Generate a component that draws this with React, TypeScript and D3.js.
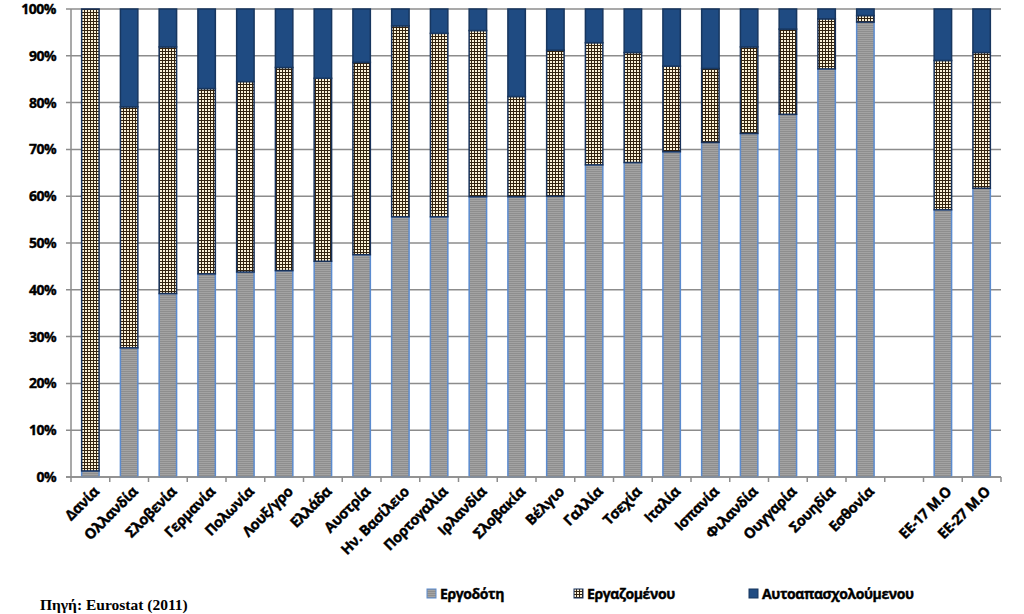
/*eslint-disable*/
import React, { useEffect, useRef } from 'react';
import * as d3 from 'd3';

// "" is the empty slot between Εσθονία and the EU averages
const categories = [
  'Δανία', 'Ολλανδία', 'Σλοβενία', 'Γερμανία', 'Πολωνία', 'Λουξ/γρο', 'Ελλάδα', 'Αυστρία',
  'Ην. Βασίλειο', 'Πορτογαλία', 'Ιρλανδία', 'Σλοβακία', 'Βέλγιο', 'Γαλλία', 'Τσεχία', 'Ιταλία',
  'Ισπανία', 'Φιλανδία', 'Ουγγαρία', 'Σουηδία', 'Εσθονία', '', 'ΕΕ-17 Μ.Ο', 'ΕΕ-27 Μ.Ο'
];

const ergodoti = [1.3, 27.6, 39.2, 43.4, 43.8, 44.1, 46.1, 47.5, 55.6, 55.6, 59.9, 59.9, 60.0, 66.7, 67.2, 69.5, 71.5, 73.4, 77.5, 87.2, 97.2, 0, 57.1, 61.7];
const ergazomenou = [98.7, 51.5, 52.7, 39.6, 40.7, 43.4, 39.1, 41.1, 40.8, 39.2, 35.5, 21.4, 31.2, 26.1, 23.5, 18.3, 15.8, 18.5, 18.2, 10.7, 1.4, 0, 31.9, 29.0];
const aftoapasx = [0, 20.9, 8.1, 17.0, 15.5, 12.5, 14.8, 11.4, 3.6, 5.2, 4.6, 18.7, 8.8, 7.2, 9.3, 12.2, 12.7, 8.1, 4.3, 2.1, 1.4, 0, 11.0, 9.3];

const seriesNames = ['Εργοδότη', 'Εργαζομένου', 'Αυτοαπασχολούμενου'];
const yTicks = [0, 10, 20, 30, 40, 50, 60, 70, 80, 90, 100];

const App: React.FC = () => {
  const svgRef = useRef<SVGSVGElement>(null);
  useEffect(() => {
    const W = 1024, H = 614;
    const left = 71, right = 1001, top = 9, bottom = 477;
    const font = '"Open Sans", "DejaVu Sans", sans-serif';

    const svg = d3.select(svgRef.current).attr('width', W).attr('height', H);
    svg.selectAll('*').remove();

    const defs = svg.append('defs');
    const p1 = defs.append('pattern').attr('id', 'pGray').attr('patternUnits', 'userSpaceOnUse')
      .attr('width', 4).attr('height', 2);
    p1.append('rect').attr('width', 4).attr('height', 2).attr('fill', '#a3a3a3');
    p1.append('rect').attr('y', 1).attr('width', 4).attr('height', 1).attr('fill', '#8e8e8e');

    const p2 = defs.append('pattern').attr('id', 'pGrid').attr('patternUnits', 'userSpaceOnUse')
      .attr('width', 3).attr('height', 3);
    p2.append('rect').attr('width', 3).attr('height', 3).attr('fill', '#33230f');
    p2.append('rect').attr('x', 1).attr('y', 1).attr('width', 2).attr('height', 2).attr('fill', '#fbf1d6');

    const fills = ['url(#pGray)', 'url(#pGrid)', '#1f4b82'];
    const strokes = ['#5b8bcf', '#17315a', '#17365f'];

    const x = d3.scaleBand<string>().domain(categories.map((c, i) => c || `gap${i}`))
      .range([left, right]).paddingInner(0.55).paddingOuter(0.275);
    const y = d3.scaleLinear().domain([0, 100]).range([bottom, top]);
    const key = (i: number) => categories[i] || `gap${i}`;

    // gridlines
    svg.append('g').selectAll('line').data(yTicks).enter().append('line')
      .attr('x1', left - 5).attr('x2', right).attr('y1', d => y(d)).attr('y2', d => y(d))
      .attr('stroke', '#8c8c8c').attr('stroke-width', 1.5);

    // y labels
    svg.append('g').selectAll('text').data(yTicks).enter().append('text')
      .attr('x', 56).attr('y', d => y(d)).attr('dy', '0.35em').attr('text-anchor', 'end')
      .attr('font-family', font).attr('font-weight', 'bold').attr('font-size', 14).attr('fill', '#000')
      .attr('stroke', '#000').attr('stroke-width', 0.4).attr('letter-spacing', -0.5)
      .text(d => `${d}%`);

    // bars
    const stack = categories.map((c, i) => {
      const a = ergodoti[i], b = ergazomenou[i], s = aftoapasx[i];
      return [[0, a], [a, a + b], [a + b, a + b + s]];
    });
    categories.forEach((c, i) => {
      if (!c) return;
      stack[i].forEach(([y0, y1], k) => {
        if (y1 - y0 <= 0) return;
        svg.append('rect')
          .attr('x', x(key(i))!).attr('width', x.bandwidth())
          .attr('y', y(Math.min(y1, 100))).attr('height', y(y0) - y(Math.min(y1, 100)))
          .attr('fill', fills[k]).attr('stroke', strokes[k]).attr('stroke-width', 1.5);
      });
    });

    // axes
    svg.append('line').attr('x1', left).attr('x2', left).attr('y1', top).attr('y2', bottom)
      .attr('stroke', '#8c8c8c').attr('stroke-width', 1.5);
    svg.append('line').attr('x1', left - 5).attr('x2', right).attr('y1', bottom).attr('y2', bottom)
      .attr('stroke', '#8c8c8c').attr('stroke-width', 1.5);
    const step = x.step();
    svg.append('g').selectAll('line').data(d3.range(categories.length + 1)).enter().append('line')
      .attr('x1', d => left + d * step).attr('x2', d => left + d * step)
      .attr('y1', bottom).attr('y2', bottom + 5).attr('stroke', '#8c8c8c').attr('stroke-width', 1.5);

    // category labels
    categories.forEach((c, i) => {
      if (!c) return;
      const cx = x(key(i))! + x.bandwidth() / 2 + 6;
      svg.append('text').attr('transform', `translate(${cx},${bottom + 12}) rotate(-45)`)
        .attr('text-anchor', 'end').attr('dy', '0.35em')
        .attr('font-family', font).attr('font-weight', 'bold').attr('font-size', 14.5).attr('fill', '#000')
        .attr('stroke', '#000').attr('stroke-width', 0.4).attr('letter-spacing', -0.4)
        .text(c);
    });

    // legend
    const legX = [427, 574, 749];
    seriesNames.forEach((n, k) => {
      svg.append('rect').attr('x', legX[k]).attr('y', 589).attr('width', 9).attr('height', 9)
        .attr('fill', fills[k]).attr('stroke', strokes[k]).attr('stroke-width', 1);
      svg.append('text').attr('x', legX[k] + 13).attr('y', 594).attr('dy', '0.35em')
        .attr('font-family', font).attr('font-weight', 'bold').attr('font-size', 14).attr('fill', '#000')
        .attr('stroke', '#000').attr('stroke-width', 0.4).attr('letter-spacing', -0.4)
        .text(n);
    });

    svg.append('text').attr('x', 40).attr('y', 605).attr('dy', '0.35em')
      .attr('font-family', '"Liberation Serif", serif').attr('font-weight', 'bold').attr('font-size', 15.5)
      .attr('fill', '#000').text('Πηγή: Eurostat (2011)');
  }, []);

  return <svg ref={svgRef} style={{ position: 'absolute', left: 0, top: 0 }}></svg>;
};

export default App;
